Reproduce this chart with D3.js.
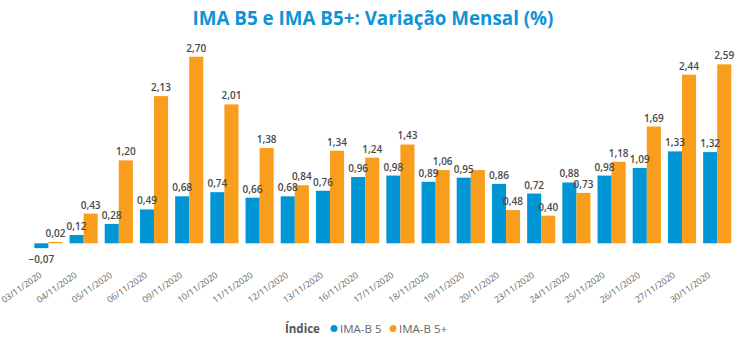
<!DOCTYPE html>
<html><head><meta charset="utf-8">
<script src="https://cdn.jsdelivr.net/npm/d3@7"></script>
<style>
html,body{margin:0;padding:0;background:#fff;}
svg{display:block;font-family:"Open Sans","Segoe UI",sans-serif;}
</style></head>
<body><svg id="c" width="750" height="355"></svg>
<script>
const categories = ["03/11/2020","04/11/2020","05/11/2020","06/11/2020","09/11/2020","10/11/2020","11/11/2020","12/11/2020","13/11/2020","16/11/2020","17/11/2020","18/11/2020","19/11/2020","20/11/2020","23/11/2020","24/11/2020","25/11/2020","26/11/2020","27/11/2020","30/11/2020"];
const imaB5 =     [-0.07,0.12,0.28,0.49,0.68,0.74,0.66,0.68,0.76,0.96,0.98,0.89,0.95,0.86,0.72,0.88,0.98,1.09,1.33,1.32];
const imaB5plus = [0.02,0.43,1.20,2.13,2.70,2.01,1.38,0.84,1.34,1.24,1.43,1.06,1.06,0.48,0.40,0.73,1.18,1.69,2.44,2.59];
const seriesNames = ["IMA-B 5","IMA-B 5+"];
const colors = ["#0096D6","#F99D1C"];
const title = "IMA B5 e IMA B5+: Variação Mensal (%)";
const legendTitle = "Índice";

const svg = d3.select("#c");
const x0 = d3.scaleBand().domain(categories).range([30.8, 734.8]).paddingInner(0.2).paddingOuter(0.1);
const x1 = d3.scaleBand().domain([0,1]).range([0, x0.bandwidth()]);
const y = d3.scaleLinear().domain([-0.3, 3.0]).range([264.03, 36.0]);
const fmt = v => d3.format(".2f")(v).replace(".", ",");

// title
const t = svg.append("text").attr("x", 373).attr("y", 25).attr("text-anchor","middle")
  .attr("font-weight","bold").attr("font-size",17).attr("fill","#0E93D6").text(title);
const tw = t.node().getComputedTextLength();
if (tw > 0) t.attr("font-size", 17*361/tw);

const series = [imaB5, imaB5plus];
const g = svg.append("g");
series.forEach((vals, si) => {
  g.selectAll(".b"+si).data(vals).enter().append("rect")
    .attr("x", (d,i) => x0(categories[i]) + x1(si))
    .attr("width", x1.bandwidth())
    .attr("y", d => Math.min(y(d), y(0)))
    .attr("height", d => Math.abs(y(d) - y(0)))
    .attr("fill", colors[si]);
});

// value labels with simple collision avoidance
const labels = g.append("g").attr("font-size", 10).attr("font-weight", 600).attr("fill","#4a4a4a").attr("text-anchor","middle");
categories.forEach((c, i) => {
  const placed = [];
  series.forEach((vals, si) => {
    const v = vals[i];
    const cx = x0(c) + x1(si) + x1.bandwidth()/2;
    const by = v >= 0 ? y(v) - 5 : y(v) + 15;
    const clash = placed.some(p => Math.abs(p.y - by) < 9 && Math.abs(p.x - cx) < 20);
    if (clash) return;
    placed.push({x: cx, y: by});
    labels.append("text").attr("x", cx).attr("y", by).text(fmt(v));
  });
});

// x axis labels
const xa = svg.append("g").attr("font-size", 8.8).attr("fill", "#6a6a6a");
categories.forEach(c => {
  const cx = x0(c) + x0.bandwidth()/2 - 6;
  xa.append("text").attr("text-anchor","end")
    .attr("transform", `translate(${cx},276.5) rotate(-35)`).text(c);
});

// legend
const lg = svg.append("g").attr("font-size", 11.5);
lg.append("text").attr("x", 285).attr("y", 333).attr("font-weight","bold").attr("fill","#555").text(legendTitle);
const lx = [334, 393];
seriesNames.forEach((n, si) => {
  lg.append("circle").attr("cx", lx[si]).attr("cy", 328.5).attr("r", 3.5).attr("fill", colors[si]);
  lg.append("text").attr("x", lx[si] + 6).attr("y", 333).attr("fill","#666").text(n);
});
</script></body></html>
